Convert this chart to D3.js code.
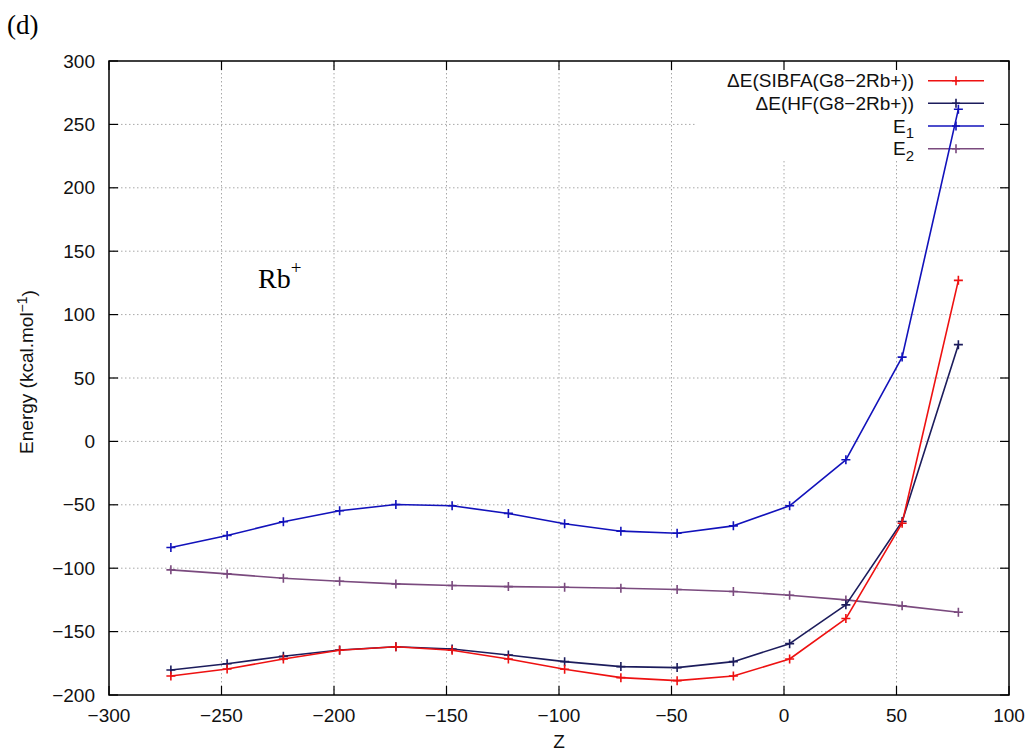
<!DOCTYPE html>
<html>
<head>
<meta charset="utf-8">
<script src="https://cdn.jsdelivr.net/npm/d3@7"></script>
<style>
html,body{margin:0;padding:0;background:#fff;}
svg text{font-family:"Liberation Sans",Arial,Helvetica,sans-serif;}
svg text.serif{font-family:"Liberation Serif","Times New Roman",serif;}
</style>
</head>
<body>
<svg id="chart" width="1028" height="754"></svg>
<script>
const zValues = [-272.5,-247.5,-222.5,-197.5,-172.5,-147.5,-122.5,-97.5,-72.5,-47.5,-22.5,2.5,27.5,52.5,77.5];
const sibfa = [-185,-179.5,-171.6,-164.7,-161.9,-164.7,-171.6,-179.7,-186.3,-188.7,-185,-171.6,-139.7,-64.5,127];
const hf = [-180.3,-175.3,-169.5,-164.5,-161.9,-163.7,-168.4,-173.7,-177.6,-178.4,-173.7,-159.5,-128.9,-63.2,76.3];
const e1 = [-83.7,-74.2,-63.4,-54.7,-49.8,-50.8,-56.8,-65,-70.8,-72.4,-66.6,-50.8,-14.5,66.5,262];
const e2 = [-101.3,-104.5,-107.9,-110.3,-112.4,-113.7,-114.5,-115,-115.8,-116.8,-118.4,-121.3,-125,-129.7,-134.7];
const xTicks = [-300,-250,-200,-150,-100,-50,0,50,100];
const yTicks = [-200,-150,-100,-50,0,50,100,150,200,250,300];
const seriesNames = ["SIBFA","HF","E1","E2"];
const seriesColors = ["#ee1111","#1c1c5c","#1212bb","#7a4a7e"];

const svg = d3.select("#chart");
const L=109, R=1009, T=61, B=695;
const x = d3.scaleLinear().domain([-300,100]).range([L,R]);
const y = d3.scaleLinear().domain([-200,300]).range([B,T]);
const fs = 19;

// grid
const grid = svg.append("g").attr("stroke","#a8a8a8").attr("stroke-width",1).attr("stroke-dasharray","1.5,2.5");
xTicks.slice(1,-1).forEach(t=>{
  grid.append("line").attr("x1",x(t)).attr("x2",x(t)).attr("y1",T).attr("y2",B);
});
yTicks.slice(1,-1).forEach(t=>{
  grid.append("line").attr("x1",L).attr("x2",R).attr("y1",y(t)).attr("y2",y(t));
});
// legend background covering the grid
svg.append("rect").attr("x",697).attr("y",T+1).attr("width",R-697-1).attr("height",99).attr("fill","#fff");

// axes (ticks inward, mirrored)
const tickLen = 9;
const axisG = svg.append("g").attr("stroke","#000").attr("stroke-width",1.2);
xTicks.forEach(t=>{
  axisG.append("line").attr("x1",x(t)).attr("x2",x(t)).attr("y1",B).attr("y2",B-tickLen);
  axisG.append("line").attr("x1",x(t)).attr("x2",x(t)).attr("y1",T).attr("y2",T+tickLen);
});
yTicks.forEach(t=>{
  axisG.append("line").attr("x1",L).attr("x2",L+tickLen).attr("y1",y(t)).attr("y2",y(t));
  axisG.append("line").attr("x1",R).attr("x2",R-tickLen).attr("y1",y(t)).attr("y2",y(t));
});
svg.append("rect").attr("x",L).attr("y",T).attr("width",R-L).attr("height",B-T)
  .attr("fill","none").attr("stroke","#000").attr("stroke-width",1.5);

const fmt = v => (v<0 ? "\u2212"+Math.abs(v) : ""+v);
svg.append("g").selectAll("text").data(xTicks).join("text")
  .attr("x",d=>x(d)).attr("y",715).attr("dy","0.35em").attr("text-anchor","middle")
  .attr("font-size",fs).attr("fill","#111").text(fmt);
svg.append("g").selectAll("text").data(yTicks).join("text")
  .attr("x",95).attr("y",d=>y(d)).attr("dy","0.35em").attr("text-anchor","end")
  .attr("font-size",fs).attr("fill","#111").text(fmt);

// axis titles
svg.append("text").attr("x",559).attr("y",741).attr("dy","0.35em").attr("text-anchor","middle")
  .attr("font-size",fs).attr("fill","#111").text("Z");
const yt = svg.append("text").attr("transform","translate(33,372) rotate(-90)")
  .attr("text-anchor","middle").attr("font-size",fs).attr("fill","#111");
yt.append("tspan").text("Energy (kcal.mol");
yt.append("tspan").attr("dy","-0.45em").attr("font-size",14).text("\u22121");
yt.append("tspan").attr("dy","0.45em").text(")");

// labels
svg.append("text").attr("class","serif").attr("x",7).attr("y",34)
  .attr("font-size",27).attr("fill","#000").text("(d)");
const rb = svg.append("text").attr("class","serif").attr("x",258).attr("y",288)
  .attr("font-size",28).attr("fill","#000");
rb.append("tspan").text("Rb");
rb.append("tspan").attr("dy","-14").attr("font-size",19).text("+");

// legend
const legendY = [80.7,103.3,126,148.7];
const legendLabels = [
  [{t:"\u0394E(SIBFA(G8\u22122Rb+))"}],
  [{t:"\u0394E(HF(G8\u22122Rb+))"}],
  [{t:"E"},{t:"1",sub:true}],
  [{t:"E"},{t:"2",sub:true}]
];
const lg = svg.append("g");
legendLabels.forEach((parts,i)=>{
  const tx = lg.append("text").attr("x",914).attr("y",legendY[i]).attr("dy","0.35em")
    .attr("text-anchor","end").attr("font-size",fs).attr("fill","#111");
  parts.forEach(p=>{
    const sp = tx.append("tspan").text(p.t);
    if(p.sub) sp.attr("dy","0.35em").attr("font-size",15);
  });
  lg.append("line").attr("x1",928).attr("x2",984).attr("y1",legendY[i]).attr("y2",legendY[i])
    .attr("stroke",seriesColors[i]).attr("stroke-width",1.6);
  lg.append("path").attr("d",`M952,${legendY[i]}h8M956,${legendY[i]-4.5}v9`)
    .attr("stroke",seriesColors[i]).attr("stroke-width",1.6);
});

// data
const allSeries = [sibfa,hf,e1,e2];
const line = d3.line().x((d,i)=>x(zValues[i])).y(d=>y(d));
const drawOrder = [3,2,1,0];
drawOrder.forEach(si=>{
  const vals = allSeries[si];
  const g = svg.append("g");
  g.append("path").datum(vals).attr("d",line).attr("fill","none")
    .attr("stroke",seriesColors[si]).attr("stroke-width",1.6).attr("stroke-linejoin","round");
  g.selectAll("path.m").data(vals).join("path").attr("class","m")
    .attr("d",(d,i)=>`M${x(zValues[i])-4.5},${y(d)}h9M${x(zValues[i])},${y(d)-4.5}v9`)
    .attr("stroke",seriesColors[si]).attr("stroke-width",1.6);
});
</script>
</body>
</html>
